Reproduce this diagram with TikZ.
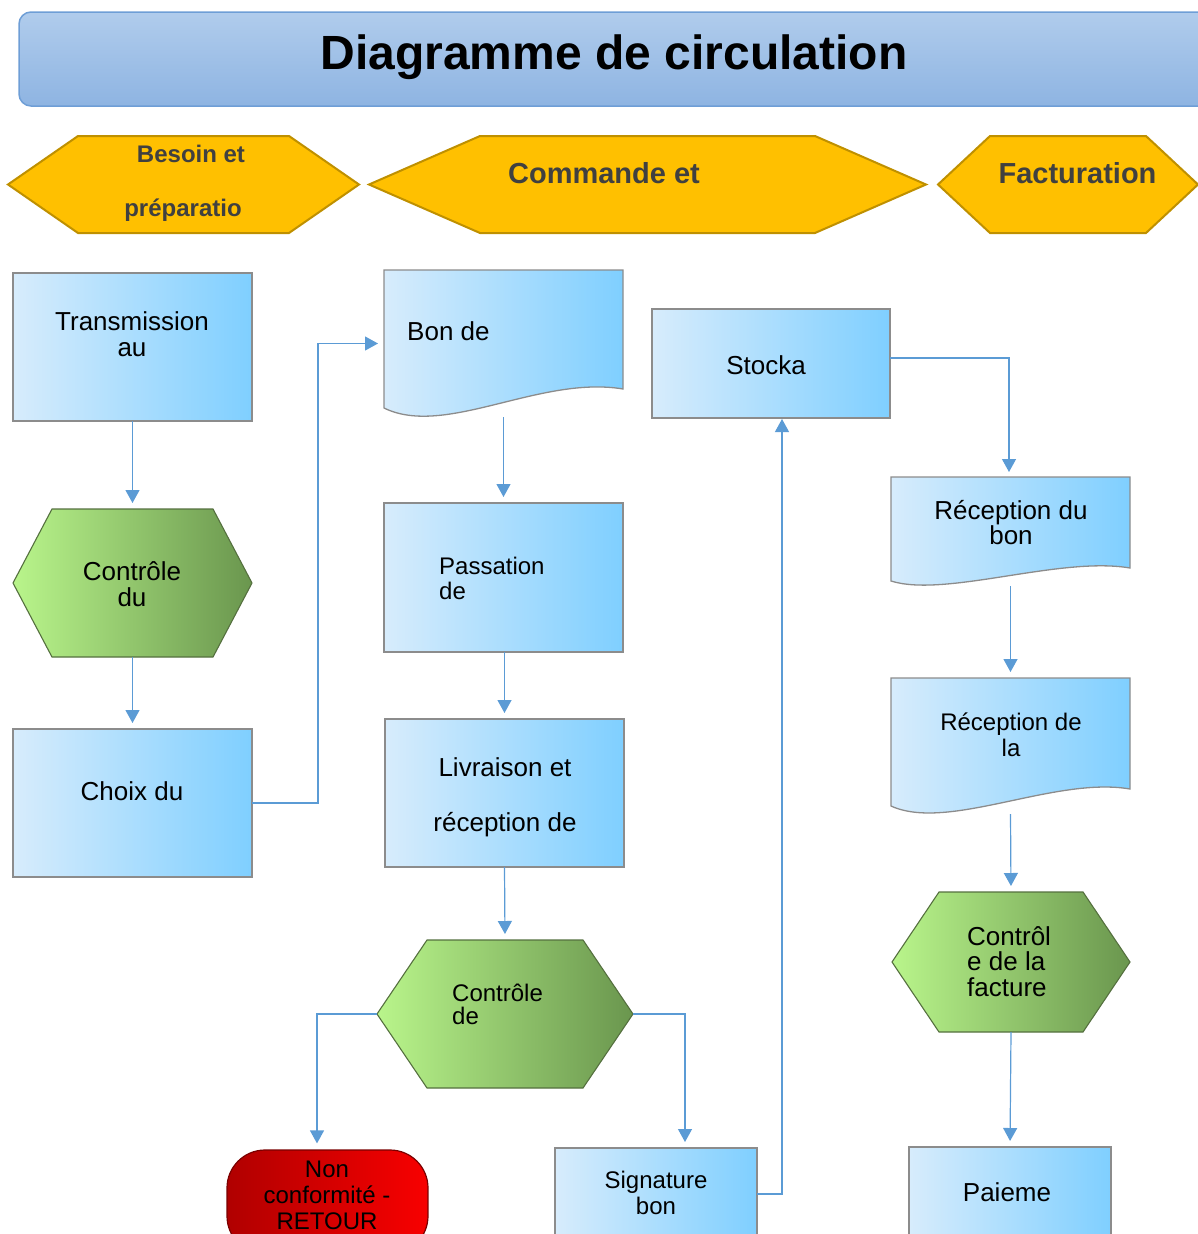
\documentclass[tikz,border=0pt]{standalone}
\usepackage{fontspec}
\setmainfont{Liberation Sans}
\usetikzlibrary{arrows.meta,calc}

\definecolor{linkblue}{HTML}{5B9BD5}
\definecolor{boxpale}{HTML}{D7ECFC}
\definecolor{boxsky}{HTML}{7FCFFF}
\definecolor{boxedge}{HTML}{8C8C8C}
\definecolor{hexlight}{HTML}{B9F58B}
\definecolor{hexdark}{HTML}{6A964E}
\definecolor{hexedge}{HTML}{55703F}
\definecolor{gold}{HTML}{FFC000}
\definecolor{goldedge}{HTML}{BF9000}
\definecolor{headtext}{HTML}{404040}
\definecolor{bannertop}{HTML}{B0CCEC}
\definecolor{bannerbot}{HTML}{8EB4E2}
\definecolor{banneredge}{HTML}{6E9ED6}
\definecolor{stopdark}{HTML}{B00000}
\definecolor{stopred}{HTML}{F80000}
\definecolor{stopedge}{HTML}{7A0000}

% hexagon outline around a frame node: #1 node name, #2 chamfer width
\newcommand\hexpath[2]{(#1.west) -- ([xshift=#2]#1.north west) -- ([xshift=-#2]#1.north east) -- (#1.east) -- ([xshift=-#2]#1.south east) -- ([xshift=#2]#1.south west) -- cycle}

\begin{document}
\begin{tikzpicture}[x=1pt,y=-1pt,
  procbox/.style={rectangle, draw=boxedge, line width=1.3pt, left color=boxpale, right color=boxsky, inner sep=0pt, outer sep=0pt},
  frame/.style={rectangle, inner sep=0pt, outer sep=0pt},
  docfill/.style={draw=boxedge, line width=1.3pt, left color=boxpale, right color=boxsky},
  hexfill/.style={draw=hexedge, line width=1.1pt, left color=hexlight, right color=hexdark},
  headfill/.style={draw=goldedge, line width=2pt, fill=gold, line join=miter},
  link/.style={draw=linkblue, line width=1.2pt, -{Triangle[width=14pt,length=13pt]}, shorten >=6pt},
  body/.style={inner sep=0pt, align=center, text=black, font=\fontsize{26}{26}\selectfont},
  bodys/.style={inner sep=0pt, align=center, text=black, font=\fontsize{24}{26}\selectfont},
  headtxt/.style={inner sep=0pt, align=center, text=headtext, font=\bfseries\fontsize{29}{29}\selectfont},
]
\useasboundingbox (0,0) rectangle (1198,1234);
\clip (0,0) rectangle (1198,1234);

% title banner
\node[rectangle, rounded corners=12pt, draw=banneredge, line width=1.5pt,
      top color=bannertop, bottom color=bannerbot, inner sep=0pt,
      minimum width=1211pt, minimum height=94pt] (banner) at (624.5,59) {};
\node[inner sep=0pt, font=\bfseries\fontsize{48}{48}\selectfont] (title) at (614,57.5) {Diagramme de circulation};

% phase headers
\node[frame, minimum width=351pt, minimum height=97pt] (hb) at (183.5,184.5) {};
\path[headfill] \hexpath{hb}{70pt};
\node[headtxt, font=\bfseries\fontsize{24}{54}\selectfont] (hbt) at (183,183.5) {\hspace*{16pt}Besoin et\\préparatio};

\node[frame, minimum width=557pt, minimum height=97pt] (hc) at (647.5,184.5) {};
\path[headfill] \hexpath{hc}{111pt};
\node[headtxt] (hct) at (604,173.5) {Commande et};

\node[frame, minimum width=260pt, minimum height=97pt] (hf) at (1068,184.5) {};
\path[headfill] \hexpath{hf}{52pt};
\node[headtxt] (hft) at (1077.5,173.5) {Facturation};

% first column
\node[procbox, minimum width=239pt, minimum height=148pt] (trans) at (132.5,347) {};
\node[body] (transt) at (132,334.5) {Transmission\\au};

\node[frame, minimum width=239pt, minimum height=148pt] (ctrl1) at (132.5,583) {};
\path[hexfill] \hexpath{ctrl1}{39pt};
\node[body] (ctrl1t) at (132,584) {Contrôle\\du};

\node[procbox, minimum width=239pt, minimum height=148pt] (choix) at (132.5,803) {};
\node[body] (choixt) at (132,791) {Choix du};

% second column
\node[frame, minimum width=239pt, minimum height=147pt] (bon) at (503.5,343.5) {};
\path[docfill] (384,270) -- (623,270) -- (623,389) .. controls (540,375) and (445,438) .. (384,408) -- cycle;
\node[body, anchor=west] (bont) at (407,331) {Bon de};

\node[procbox, minimum width=239pt, minimum height=149pt] (pass) at (503.5,577.5) {};
\node[bodys, align=left, anchor=west, font=\fontsize{24}{25}\selectfont] (passt) at (439,578.5) {Passation\\de};

\node[procbox, minimum width=239pt, minimum height=148pt] (livr) at (504.5,793) {};
\node[body, font=\fontsize{26}{55}\selectfont] (livrt) at (505,797) {Livraison et\\réception de};

\node[frame, minimum width=256pt, minimum height=148pt] (ctrl2) at (505,1014) {};
\path[hexfill] \hexpath{ctrl2}{50pt};
\node[bodys, align=left, anchor=west, font=\fontsize{24}{23}\selectfont] (ctrl2t) at (452,1004) {Contrôle\\de};

\node[rectangle, rounded corners=38pt, draw=stopedge, line width=1.2pt,
      left color=stopdark, right color=stopred, inner sep=0pt,
      minimum width=201pt, minimum height=104pt] (nonc) at (327.5,1202) {};
\node[bodys] (nonct) at (327,1195) {Non\\conformité -\\RETOUR};

\node[procbox, minimum width=202pt, minimum height=92pt] (sig) at (656,1194) {};
\node[bodys] (sigt) at (656,1193) {Signature\\bon};

% stock
\node[procbox, minimum width=238pt, minimum height=109pt] (stock) at (771,363.5) {};
\node[body] (stockt) at (766,365) {Stocka};

% invoicing column
\node[frame, minimum width=239pt, minimum height=109pt] (rb) at (1010.5,531.5) {};
\path[docfill] (891,477) -- (1130,477) -- (1130,568) .. controls (1060,556) and (945,598) .. (891,581) -- cycle;
\node[body, font=\fontsize{26}{25}\selectfont] (rbt) at (1011,522.5) {Réception du\\bon};

\node[frame, minimum width=239pt, minimum height=136pt] (rf) at (1010.5,746) {};
\path[docfill] (891,678) -- (1130,678) -- (1130,789) .. controls (1055,776) and (948,832) .. (891,806) -- cycle;
\node[bodys] (rft) at (1011,735) {Réception de\\la};

\node[frame, minimum width=238pt, minimum height=140pt] (ctrl3) at (1011,962) {};
\path[hexfill] \hexpath{ctrl3}{47pt};
\node[body, align=left, anchor=west, font=\fontsize{26}{25.5}\selectfont] (ctrl3t) at (967,961.5) {Contrôl\\e de la\\facture};

\node[procbox, minimum width=202pt, minimum height=92pt] (pay) at (1010,1193) {};
\node[body] (payt) at (1007,1192) {Paieme};

% connectors
\draw[link] (trans.south) -- (ctrl1.north);
\draw[link] (ctrl1.south) -- (choix.north);
\draw[link] (choix.east) -- ++(66,0) |- (bon.west);
\draw[link] (bon.south) -- (pass.north);
\draw[link] (livr.north |- pass.south) -- (livr.north);
\draw[link] (livr.south) -- (ctrl2.north);
\draw[link] (ctrl2.west) -| ([xshift=-10.5pt]nonc.north);
\draw[link] (ctrl2.east) -| ([xshift=29pt]sig.north);
\draw[link, shorten >=1pt] (sig.east) -| ([xshift=11pt]stock.south);
\draw[link, shorten >=5pt] ([yshift=5.5pt]stock.east) -| ([xshift=-1.5pt]rb.north);
\draw[link] (rb.south) -- (rf.north);
\draw[link] (rf.south) -- (ctrl3.north);
\draw[link] (ctrl3.south) -- (pay.north);
\end{tikzpicture}
\end{document}
